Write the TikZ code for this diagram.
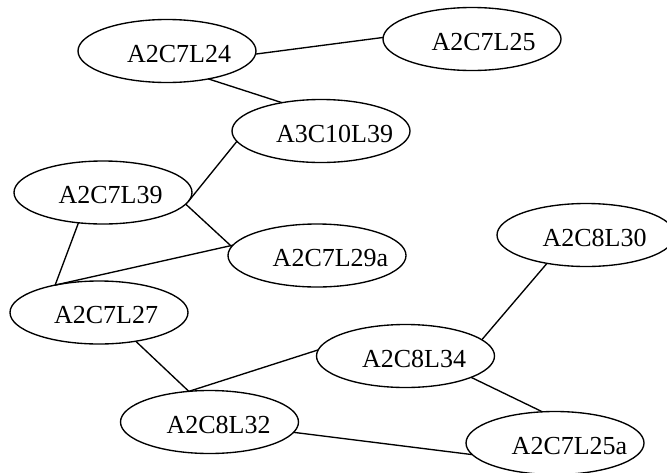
\documentclass[tikz,border=0pt]{standalone}
\usepackage{fontspec}
\setmainfont{Liberation Serif}
\usetikzlibrary{shapes.geometric}
\tikzset{
  gnode/.style={ellipse, draw, line width=1.35pt, minimum width=178pt, minimum height=63pt, inner sep=0pt, outer sep=0pt},
  lbl/.style={font=\fontsize{26}{30}\selectfont, inner sep=0pt, yshift=-3pt},
  edge/.style={line width=1.35pt}
}
\begin{document}
\begin{tikzpicture}[x=1pt,y=-1pt]
\useasboundingbox (0,0) rectangle (667,472);
\node[gnode, label={[lbl,xshift=12pt]center:A2C7L24}] (n24) at (167,51) {};
\node[gnode, label={[lbl,xshift=11.5pt]center:A2C7L25}] (n25) at (472,39) {};
\node[gnode, label={[lbl,xshift=13.5pt]center:A3C10L39}] (n3c) at (321,131) {};
\node[gnode, label={[lbl,xshift=7.5pt]center:A2C7L39}] (n39) at (103,192.5) {};
\node[gnode, label={[lbl,xshift=13.5pt]center:A2C7L29a}] (n29a) at (317,255.5) {};
\node[gnode, label={[lbl,xshift=8.5pt]center:A2C8L30}] (n30) at (586,235) {};
\node[gnode, label={[lbl,xshift=7pt]center:A2C7L27}] (n27) at (99,312.5) {};
\node[gnode, label={[lbl,xshift=8.5pt]center:A2C8L34}] (n34) at (405.5,356) {};
\node[gnode, label={[lbl,xshift=9pt]center:A2C8L32}] (n32) at (209.5,422) {};
\node[gnode, label={[lbl,xshift=14.5pt]center:A2C7L25a}] (n25a) at (555,443) {};

\draw[edge] (n24.-2.6) -- (n25.179.4);
\draw[edge] (n24.-34.3) -- (n3c.144.8);
\draw[edge] (n39.-6.4) -- (n3c.187);
\draw[edge] (n39.-8.4) -- (n29a.174.4);
\draw[edge] (n39.-129.5) -- (n27.148);
\draw[edge] (n27.148) -- (n29a.173);
\draw[edge] (n27.-38.6) -- (n32.124.7);
\draw[edge] (n32.124.7) -- (n34.176.8);
\draw[edge] (n34.12.4) -- (n30.-144.2);
\draw[edge] (n34.-18.6) -- (n25a.112);
\draw[edge] (n32.-7.1) -- (n25a.-172.8);
\end{tikzpicture}
\end{document}
